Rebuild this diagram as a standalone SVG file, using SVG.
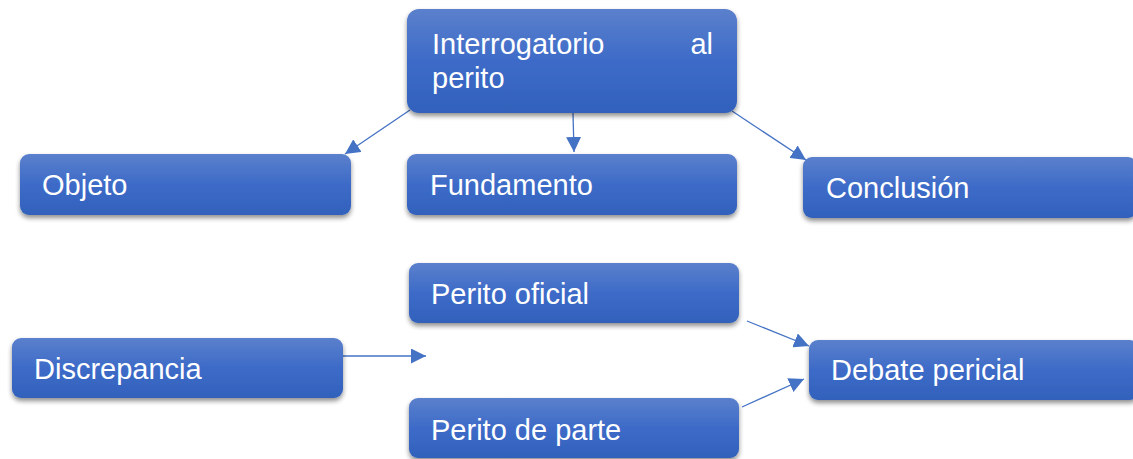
<svg xmlns="http://www.w3.org/2000/svg" width="1133" height="459" viewBox="0 0 1133 459">
<defs>
<linearGradient id="g" x1="0" y1="0" x2="0" y2="1">
<stop offset="0" stop-color="#5b80cc"/>
<stop offset="0.5" stop-color="#3d6bc8"/>
<stop offset="1" stop-color="#3161bb"/>
</linearGradient>
<filter id="sh" x="-10%" y="-20%" width="120%" height="160%">
<feGaussianBlur in="SourceAlpha" stdDeviation="2.5"/>
<feOffset dx="0" dy="3" result="b"/>
<feComponentTransfer><feFuncA type="linear" slope="0.45"/></feComponentTransfer>
<feMerge><feMergeNode/><feMergeNode in="SourceGraphic"/></feMerge>
</filter>
<marker id="ah" viewBox="0 0 10 10" refX="10" refY="5" markerWidth="15" markerHeight="15" markerUnits="userSpaceOnUse" orient="auto">
<path d="M0,0 L10,5 L0,10 z" fill="#4472c4"/>
</marker>
</defs>
<style>
.box{fill:url(#g);filter:url(#sh)}
.t{font-family:"Liberation Sans",Arial,sans-serif;font-size:29px;fill:#ffffff}
.c{stroke:#4472c4;stroke-width:1.3;fill:none;marker-end:url(#ah)}
</style>
<rect width="1133" height="459" fill="#ffffff"/>
<g id="connectors">
<line class="c" x1="410" y1="110" x2="345" y2="154"/>
<line class="c" x1="573" y1="113" x2="574" y2="152"/>
<line class="c" x1="732" y1="111" x2="806" y2="160"/>
<line class="c" x1="343" y1="356" x2="426" y2="356"/>
<line class="c" x1="747" y1="321" x2="809" y2="346"/>
<line class="c" x1="742" y1="407" x2="804" y2="379"/>
</g>
<g id="n-interrogatorio">
<rect class="box" x="407" y="9" width="330" height="104" rx="12"/>
<text class="t" x="432" y="54">Interrogatorio</text>
<text class="t" x="713" y="54" text-anchor="end">al</text>
<text class="t" x="432" y="88">perito</text>
</g>
<g id="n-objeto">
<rect class="box" x="20" y="154" width="331" height="61" rx="9"/>
<text class="t" x="42" y="195">Objeto</text>
</g>
<g id="n-fundamento">
<rect class="box" x="407" y="154" width="330" height="61" rx="9"/>
<text class="t" x="430" y="195">Fundamento</text>
</g>
<g id="n-conclusion">
<rect class="box" x="803" y="157" width="334" height="61" rx="9"/>
<text class="t" x="826" y="198">Conclusión</text>
</g>
<g id="n-perito-oficial">
<rect class="box" x="409" y="263" width="330" height="60" rx="9"/>
<text class="t" x="431" y="304">Perito oficial</text>
</g>
<g id="n-discrepancia">
<rect class="box" x="12" y="338" width="331" height="60" rx="9"/>
<text class="t" x="34" y="379">Discrepancia</text>
</g>
<g id="n-debate">
<rect class="box" x="809" y="340" width="330" height="60" rx="9"/>
<text class="t" x="831" y="380">Debate pericial</text>
</g>
<g id="n-perito-parte">
<rect class="box" x="409" y="398" width="330" height="60" rx="9"/>
<text class="t" x="431" y="440">Perito de parte</text>
</g>
</svg>
